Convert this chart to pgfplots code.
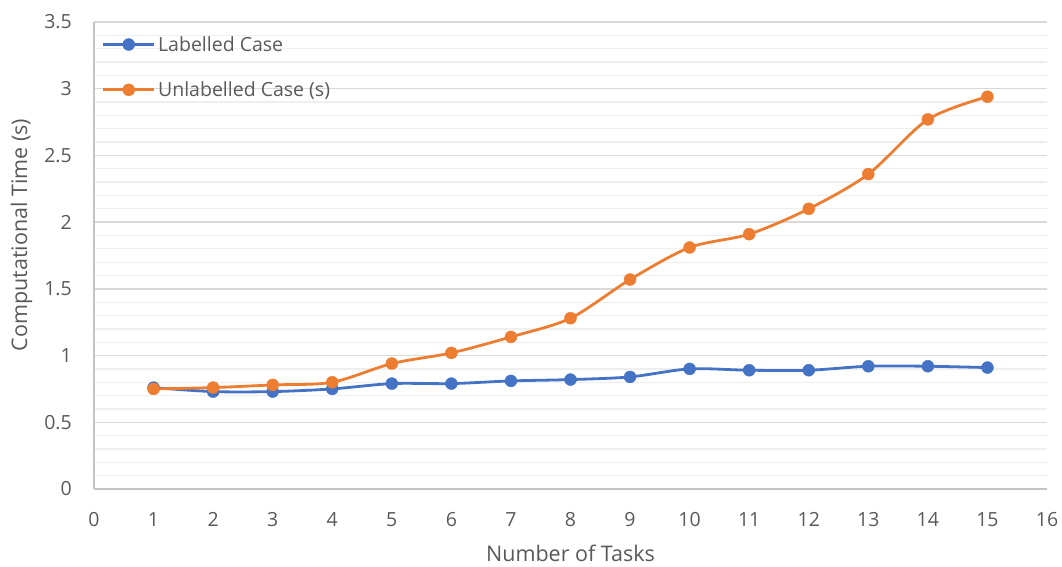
\documentclass[border=0pt]{standalone}
\usepackage{pgfplots}
\pgfplotsset{compat=1.18}
\usepackage{fontspec}
\setmainfont{Open Sans}

\definecolor{seriesblue}{HTML}{4472C4}
\definecolor{seriesorange}{HTML}{ED7D31}
\definecolor{txtgray}{HTML}{595959}
\definecolor{majgrid}{HTML}{D9D9D9}
\definecolor{mingrid}{HTML}{EFEFEF}
\definecolor{axisgray}{HTML}{C4C4C4}

\begin{document}
\begin{tikzpicture}
% page frame around the plot area
\path[use as bounding box] (-94pt,-78pt) rectangle (968pt,489pt);
\begin{axis}[
  at={(0pt,0pt)}, anchor=south west,
  scale only axis, width=953pt, height=467pt,
  xmin=0, xmax=16, ymin=0, ymax=3.5,
  xtick={0,...,16}, ytick={0,0.5,...,3.5},
  minor y tick num=4,
  axis x line*=bottom, axis y line*=left,
  axis line style={axisgray, line width=1.2pt, -},
  ymajorgrids, yminorgrids,
  major grid style={majgrid, line width=1.3pt},
  minor grid style={mingrid, line width=1.3pt},
  major tick length=0pt, minor tick length=0pt,
  tick style={draw=none},
  /pgf/number format/assume math mode=true,
  ticklabel style={font=\fontsize{19.5}{23}\selectfont, text=txtgray},
  yticklabel style={inner sep=0pt, anchor=east, xshift=-22pt},
  xticklabel style={inner sep=0pt, anchor=north, yshift=-23pt},
  xlabel={Number of Tasks},
  ylabel={Computational Time (s)},
  xlabel style={at={(axis description cs:0.5,-0.138)}, anchor=center, inner sep=0pt,
    font=\fontsize{21.5}{25}\selectfont, text=txtgray},
  ylabel style={at={(axis description cs:-0.076,0.544)}, anchor=center,
    font=\fontsize{21.5}{25}\selectfont, text=txtgray},
  legend style={at={(axis description cs:0.008,0.975)}, anchor=north west,
    draw=none, fill=none, font=\fontsize{19.5}{23}\selectfont, text=txtgray,
    row sep=24pt, column sep=0pt, inner sep=0pt,
    nodes={inner sep=2.5pt}},
  legend cell align=left,
  legend image code/.code={%
    \draw[mark repeat=2,mark phase=2,#1] plot coordinates {(0pt,0pt) (25.5pt,0pt) (51pt,0pt)};},
]
\addplot[seriesblue, line width=2.8pt, smooth, tension=0.5,
  mark=*, mark size=6pt, mark options={solid, fill=seriesblue, draw=seriesblue, line width=0.4pt}]
  coordinates {(1,0.76) (2,0.73) (3,0.73) (4,0.75) (5,0.79) (6,0.79) (7,0.81) (8,0.82)
               (9,0.84) (10,0.90) (11,0.89) (12,0.89) (13,0.92) (14,0.92) (15,0.91)};
\addlegendentry{Labelled Case}
\addplot[seriesorange, line width=2.8pt, smooth, tension=0.5,
  mark=*, mark size=6pt, mark options={solid, fill=seriesorange, draw=seriesorange, line width=0.4pt}]
  coordinates {(1,0.75) (2,0.76) (3,0.78) (4,0.80) (5,0.94) (6,1.02) (7,1.14) (8,1.28)
               (9,1.57) (10,1.81) (11,1.91) (12,2.10) (13,2.36) (14,2.77) (15,2.94)};
\addlegendentry{Unlabelled Case (s)}
\end{axis}
\end{tikzpicture}
\end{document}
